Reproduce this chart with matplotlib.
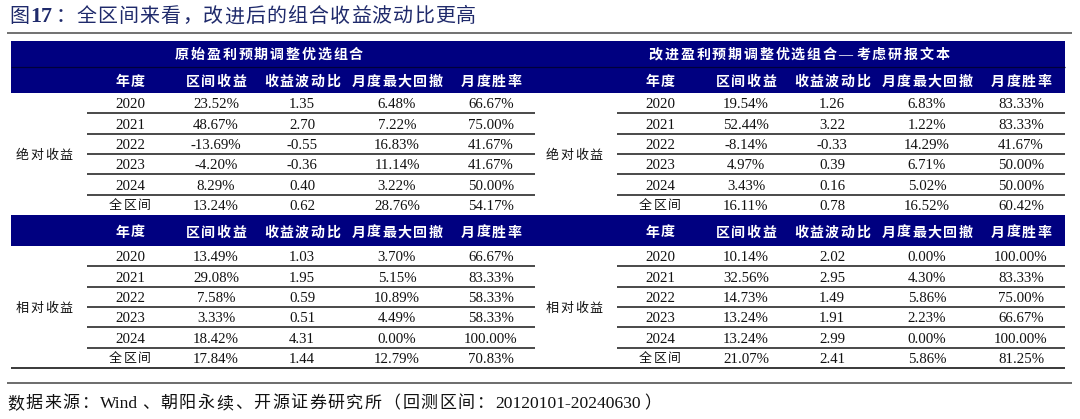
import matplotlib
matplotlib.use('Agg')
import matplotlib.pyplot as plt
from matplotlib.patches import Rectangle

# =============================================================================
# Data
# =============================================================================
title = '图17：全区间来看，改进后的组合收益波动比更高'
source = '数据来源：Wind、朝阳永续、开源证券研究所（回测区间：20120101-20240630）'

group_titles = ['原始盈利预期调整优选组合', '改进盈利预期调整优选组合—考虑研报文本']
block_labels = ['绝对收益', '相对收益']
col_headers = ['年度', '区间收益', '收益波动比', '月度最大回撤', '月度胜率']
periods = ['2020', '2021', '2022', '2023', '2024', '全区间']

# original portfolio - absolute
orig_abs_ret = [23.52, 48.67, -13.69, -4.20, 8.29, 13.24]
orig_abs_ratio = [1.35, 2.70, -0.55, -0.36, 0.40, 0.62]
orig_abs_mdd = [6.48, 7.22, 16.83, 11.14, 3.22, 28.76]
orig_abs_win = [66.67, 75.00, 41.67, 41.67, 50.00, 54.17]
# original portfolio - relative
orig_rel_ret = [13.49, 29.08, 7.58, 3.33, 18.42, 17.84]
orig_rel_ratio = [1.03, 1.95, 0.59, 0.51, 4.31, 1.44]
orig_rel_mdd = [3.70, 5.15, 10.89, 4.49, 0.00, 12.79]
orig_rel_win = [66.67, 83.33, 58.33, 58.33, 100.00, 70.83]
# improved portfolio - absolute
impr_abs_ret = [19.54, 52.44, -8.14, 4.97, 3.43, 16.11]
impr_abs_ratio = [1.26, 3.22, -0.33, 0.39, 0.16, 0.78]
impr_abs_mdd = [6.83, 1.22, 14.29, 6.71, 5.02, 16.52]
impr_abs_win = [83.33, 83.33, 41.67, 50.00, 50.00, 60.42]
# improved portfolio - relative
impr_rel_ret = [10.14, 32.56, 14.73, 13.24, 13.24, 21.07]
impr_rel_ratio = [2.02, 2.95, 1.49, 1.91, 2.99, 2.41]
impr_rel_mdd = [0.00, 4.30, 5.86, 2.23, 0.00, 5.86]
impr_rel_win = [100.00, 83.33, 75.00, 66.67, 100.00, 81.25]

tables = [
    [(orig_abs_ret, orig_abs_ratio, orig_abs_mdd, orig_abs_win),
     (impr_abs_ret, impr_abs_ratio, impr_abs_mdd, impr_abs_win)],
    [(orig_rel_ret, orig_rel_ratio, orig_rel_mdd, orig_rel_win),
     (impr_rel_ret, impr_rel_ratio, impr_rel_mdd, impr_rel_win)],
]

# =============================================================================
# Layout (pixel coords)
# =============================================================================
NAVY = '#000080'
TITLE_C = '#1f2a6b'
FAM = ['Liberation Serif', 'Noto Sans CJK SC']

fig = plt.figure(figsize=(10.8, 4.19), dpi=100, facecolor='w')
ax = fig.add_axes([0, 0, 1, 1])
ax.set_xlim(0, 1080)
ax.set_ylim(419, 0)
ax.axis('off')
renderer = fig.canvas.get_renderer()


def is_cjk(ch):
    return ord(ch) > 0x2E80


def tokens(s):
    out, run = [], ''
    for ch in s:
        if is_cjk(ch):
            if run:
                out.append(run)
                run = ''
            out.append(ch)
        else:
            run += ch
    if run:
        out.append(run)
    return out


def spaced(x, y, s, px, track, color='#111111', weight='normal', ha='center',
           bold_runs=False, lat_px=None):
    # draw text char by char so that the wide letter spacing can be copied
    lat_px = lat_px or px
    toks = tokens(s)
    widths = []
    for t in toks:
        if is_cjk(t[0]):
            widths.append(px)
        else:
            tt = ax.text(0, 0, t, fontsize=lat_px * 0.72, family=FAM,
                         weight='bold' if bold_runs else weight)
            widths.append(tt.get_window_extent(renderer).width + 2)
            tt.remove()
    total = sum(widths) + track * (len(toks) - 1)
    x0 = x - total / 2 if ha == 'center' else x
    yb = y + 0.36 * px
    for t, w in zip(toks, widths):
        cjk = is_cjk(t[0])
        wt = 'bold' if (bold_runs and not cjk) else weight
        ax.text(x0, yb, t, fontsize=(px if cjk else lat_px) * 0.72,
                family=FAM, color=color, weight=wt, ha='left', va='baseline')
        x0 += w + track


# title and rules
spaced(9, 15, title, 20, 1.1, color=TITLE_C, ha='left', bold_runs=True,
       lat_px=22)
ax.hlines(33, 7, 1072, color='#666666', lw=1.3)
ax.hlines(383, 7, 1072, color='#444444', lw=1.1)
spaced(7, 402, source, 17, 1.6, color='#111111', ha='left', lat_px=17.5)

col_x = [130, 216, 302, 397, 491]
panel_dx = [0, 530]
label_x = 44
row_h = 20.33

blocks = [(41, 67, 93), (None, 215, 246)]  # (title top, header top, header bottom)

for b, (ttop, htop, hbot) in enumerate(blocks):
    top = ttop if ttop is not None else htop
    ax.add_patch(Rectangle((11, top), 1054, hbot - top, color=NAVY, lw=0))
    if ttop is not None:
        ax.hlines(htop, 11, 1065, color='#00003a', lw=0.9)
        for p in range(2):
            spaced(269 + panel_dx[p], (ttop + htop) / 2, group_titles[p],
                   14, 1.8, color='w', weight='bold')
    for p in range(2):
        dx = panel_dx[p]
        for j, h in enumerate(col_headers):
            spaced(col_x[j] + dx, (htop + hbot) / 2 + 1, h, 14, 1.5,
                   color='w', weight='bold')
        cols = tables[b][p]
        for i, per in enumerate(periods):
            yc = hbot + row_h * (i + 0.5)
            if per.isdigit():
                ax.text(col_x[0] + dx, yc + 5.3, per, fontsize=10.7,
                        family=FAM, ha='center', va='baseline', color='#111111')
            else:
                spaced(col_x[0] + dx, yc, per, 13, 1.5)
            vals = ['%.2f%%' % cols[0][i], '%.2f' % cols[1][i],
                    '%.2f%%' % cols[2][i], '%.2f%%' % cols[3][i]]
            for j, v in enumerate(vals):
                ax.text(col_x[j + 1] + dx, yc + 5.3, v, fontsize=10.7,
                        family=FAM, ha='center', va='baseline', color='#111111')
            if i < len(periods) - 1:
                ax.hlines(hbot + row_h * (i + 1), 87 + dx, 535 + dx,
                          color='#2a2a2a', lw=1.2)
        spaced(label_x + dx, hbot + row_h * 3, block_labels[b], 13, 1.6)

ax.hlines(368, 11, 1065, color='#2a2a2a', lw=1.3)

plt.savefig('out.png', dpi=100, facecolor='w')
